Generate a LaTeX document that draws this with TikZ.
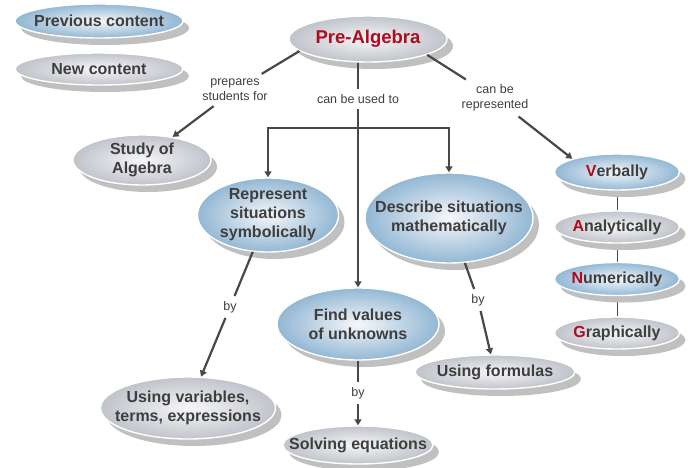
\documentclass[tikz,border=0pt]{standalone}
\usepackage{fontspec}
\setmainfont{Liberation Sans}
\usetikzlibrary{arrows.meta,shapes.geometric,shadows,backgrounds}
\definecolor{mapazul}{RGB}{146,183,212}
\definecolor{mapgris}{RGB}{192,195,202}
\definecolor{mapcentro}{RGB}{246,247,249}
\definecolor{mapsombra}{RGB}{192,192,192}
\definecolor{maptexto}{RGB}{62,62,62}
\definecolor{maprojo}{RGB}{175,10,30}
\definecolor{maplinea}{RGB}{72,72,72}

\begin{document}
\begin{tikzpicture}[x=1pt, y=-1pt, >={Triangle[length=6pt,width=7pt]},
    burbuja/.style={ellipse, inner sep=-20pt, draw=white, line width=1.4pt, inner color=mapcentro,
      text=maptexto, font=\bfseries\fontsize{16}{19}\selectfont, align=center,
      drop shadow={shadow xshift=6pt, shadow yshift=-7pt, fill=mapsombra, opacity=1}},
    azul/.style={burbuja, outer color=mapazul},
    gris/.style={burbuja, outer color=mapgris},
    enlace/.style={font=\fontsize{12.5}{15}\selectfont, text=maptexto, align=center, inner sep=5pt},
    flecha/.style={draw=maplinea, line width=2.2pt}]
    \useasboundingbox (0,0) rectangle (696,468);
    \node[azul, minimum width=168pt, minimum height=34pt] (previo) at (99,21) {Previous content};
    \node[gris, minimum width=168pt, minimum height=32pt] (nuevo) at (99,69) {New content};
    \node[gris, minimum width=158pt, minimum height=46pt, text=maprojo,
          font=\bfseries\fontsize{18.5}{22}\selectfont] (prealg) at (368,39) {Pre-Algebra};
    \node[gris, minimum width=138pt, minimum height=50pt] (estudio) at (142,160) {Study of\\Algebra};
    \node[azul, minimum width=141pt, minimum height=74pt] (repres) at (268,215) {Represent\\situations\\symbolically};
    \node[azul, minimum width=168pt, minimum height=90pt] (describ) at (449,218) {Describe situations\\mathematically};
    \node[azul, minimum width=162pt, minimum height=72pt] (hallar) at (358,324) {Find values\\of unknowns};
    \node[gris, minimum width=175pt, minimum height=62pt] (usarvar) at (188,408) {Using variables,\\terms, expressions};
    \node[gris, minimum width=160pt, minimum height=34pt] (formulas) at (495,372) {Using formulas};
    \node[gris, minimum width=150pt, minimum height=38pt] (resolver) at (358,445) {Solving equations};
    \node[azul, minimum width=125pt, minimum height=36pt] (verbal) at (617,172) {\textcolor{maprojo}{V}erbally};
    \node[gris, minimum width=125pt, minimum height=32pt] (analit) at (617,227) {\textcolor{maprojo}{A}nalytically};
    \node[azul, minimum width=125pt, minimum height=33pt] (numer) at (617,279) {\textcolor{maprojo}{N}umerically};
    \node[gris, minimum width=125pt, minimum height=32pt] (grafic) at (617,333) {\textcolor{maprojo}{G}raphically};
    \node[enlace] (lblprep) at (235,90) {prepares\\students for};
    \node[enlace] (lblusar) at (358,99) {can be used to};
    \node[enlace] (lblrepr) at (495,98) {can be\\represented};
    \node[enlace] (lblpor1) at (230,307) {by};
    \node[enlace] (lblpor2) at (478,300) {by};
    \node[enlace] (lblpor3) at (358,393) {by};
    \coordinate (bifurca) at (358,128);
    \draw[flecha] (prealg.190) -- (lblprep);
    \draw[flecha,->] (lblprep) -- (estudio);
    \draw[flecha] (prealg.south -| lblusar) -- (lblusar);
    \draw[flecha,->] (lblusar) -- (hallar);
    \draw[flecha,->] (bifurca) -| (repres);
    \draw[flecha,->] (bifurca) -| (describ);
    \draw[flecha] (prealg.345) -- (lblrepr);
    \draw[flecha,->] (lblrepr) -- (verbal.north west);
    \draw[flecha] (repres) -- (lblpor1);
    \draw[flecha,->] (lblpor1) -- (usarvar);
    \draw[flecha] (describ) -- (lblpor2);
    \draw[flecha,->] (lblpor2) -- (formulas);
    \draw[flecha, line width=1.6pt] (hallar) -- (lblpor3);
    \draw[flecha, line width=1.6pt, ->] (lblpor3) -- (resolver);
    \begin{scope}[on background layer]
      \draw[maplinea, line width=0.9pt] (verbal) -- (analit) -- (numer) -- (grafic);
    \end{scope}
\end{tikzpicture}
\end{document}
